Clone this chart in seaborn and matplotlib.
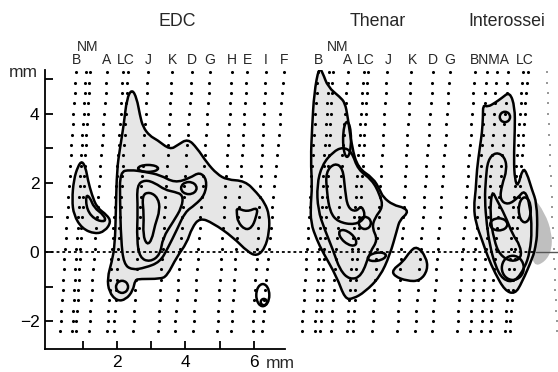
import matplotlib
matplotlib.use('Agg')
import matplotlib.pyplot as plt
from matplotlib.path import Path
from matplotlib.patches import PathPatch, Ellipse
import seaborn as sns
import pandas as pd
import numpy as np

sns.set_theme(style="white")
plt.rcParams['font.family'] = ['Liberation Sans', 'DejaVu Sans']

# ---- electrode grid (mm); columns slant a little, top row -> bottom row ----
dot_rows = [5.2, 4.9, 4.6, 4.3, 4.0, 3.7, 3.4, 3.1, 2.8, 2.5, 2.2, 1.9, 1.6,
            1.3, 1.0, 0.7, 0.4, 0.1, -0.2, -0.5, -0.8, -1.1, -1.4, -1.7,
            -2.0, -2.3]
edc_cols_top = [0.80, 1.09, 1.21, 1.71, 2.18, 2.32, 2.91, 3.61, 4.19, 4.72,
                5.36, 5.80, 6.35, 6.88]
edc_cols_bot = [0.34, 0.69, 0.80, 1.18, 1.71, 1.91, 2.47, 3.20, 3.69, 4.22,
                4.92, 5.33, 5.97, 6.23]
thenar_cols_top = [7.87, 8.19, 8.31, 8.74, 9.21, 9.33, 9.88, 10.58, 11.23, 11.72]
thenar_cols_bot = [7.40, 7.78, 7.93, 8.25, 8.72, 8.89, 9.45, 10.18, 10.70, 11.20]
inter_cols_top = [12.45, 12.80, 13.09, 13.42, 13.85, 13.99]
inter_cols_bot = [11.93, 12.31, 12.63, 12.89, 13.33, 13.47]
faint_col_top = [14.55]
faint_col_bot = [14.85]

# ---- column labels ----
edc_labels = ['B', 'A', 'LC', 'J', 'K', 'D', 'G', 'H', 'E', 'I', 'F']
edc_label_x = [0.83, 1.71, 2.26, 2.91, 3.61, 4.19, 4.72, 5.36, 5.80, 6.35, 6.88]
thenar_labels = ['B', 'A', 'LC', 'J', 'K', 'D', 'G']
thenar_label_x = [7.90, 8.74, 9.27, 9.91, 10.64, 11.23, 11.72]
inter_labels = ['BNMA', 'LC']
inter_label_x = [12.90, 13.90]
nm_label_x = [1.15, 8.45]

panel_titles = ['EDC', 'Thenar']
panel_title_x = [3.75, 9.62]

# ---- contour outlines (mm) ----
edc_outer = [(2.44, 4.72), (2.58, 4.45), (2.67, 3.97), (2.76, 3.62), (2.96, 3.36),
             (3.17, 3.25), (3.55, 2.96), (3.78, 3.10), (4.07, 3.28), (4.34, 3.01),
             (4.63, 2.58), (4.92, 2.26), (5.21, 2.09), (5.74, 2.06), (6.09, 1.71),
             (6.32, 1.42), (6.45, 1.07), (6.45, 0.58), (6.32, 0.10), (6.09, -0.12),
             (5.82, 0.00), (5.39, 0.43), (4.80, 0.84), (4.42, 0.99), (4.19, 0.70),
             (4.04, 0.26), (3.75, -0.14), (3.46, -0.70), (3.26, -0.78), (2.67, -0.78),
             (2.53, -0.81), (2.47, -1.12), (2.26, -1.38), (2.00, -1.42), (1.77, -1.16),
             (1.72, -0.75), (1.85, -0.29), (1.94, 0.20), (1.97, 1.22), (2.00, 2.38),
             (2.09, 3.01), (2.20, 3.68), (2.29, 4.45)]
edc_mid = [(2.09, 2.32), (2.38, 2.38), (2.82, 2.32), (3.26, 2.23), (3.69, 2.00),
           (4.13, 2.14), (4.42, 2.32), (4.63, 2.09), (4.57, 1.65), (4.28, 1.36),
           (3.99, 1.16), (3.75, 0.64), (3.49, 0.12), (3.26, -0.29), (2.82, -0.46),
           (2.44, -0.52), (2.20, -0.35), (2.12, 0.35), (2.09, 1.51)]
edc_inner = [(2.58, 1.94), (2.82, 2.09), (3.11, 2.00), (3.40, 1.80), (3.69, 1.74),
             (3.93, 1.65), (3.90, 1.30), (3.64, 0.87), (3.34, 0.41), (3.26, -0.09),
             (2.96, -0.29), (2.67, -0.17), (2.58, 0.35), (2.61, 1.22)]
edc_core = [(2.73, 1.65), (2.96, 1.74), (3.20, 1.57), (3.26, 1.22), (3.11, 0.78),
            (3.02, 0.35), (2.88, 0.20), (2.76, 0.49), (2.79, 1.07)]
edc_heart = [(5.50, 1.28), (5.80, 1.16), (6.12, 1.30), (6.06, 0.99), (5.94, 0.70),
             (5.74, 0.64), (5.53, 0.87), (5.50, 1.13)]
edc_left_outer = [(0.98, 2.64), (1.09, 2.43), (1.15, 2.09), (1.27, 1.65), (1.42, 1.28),
                  (1.71, 1.07), (1.83, 0.87), (1.65, 0.60), (1.36, 0.52), (0.98, 0.68),
                  (0.74, 1.07), (0.69, 1.51), (0.74, 2.09), (0.86, 2.48)]
edc_left_inner = [(1.09, 1.65), (1.12, 1.22), (1.36, 0.93), (1.68, 0.87),
                  (1.62, 1.07), (1.33, 1.28), (1.21, 1.59)]

thenar_outer = [(7.90, 5.36), (8.01, 5.19), (8.16, 4.78), (8.51, 4.49), (8.66, 4.32),
                (8.74, 3.91), (8.86, 3.04), (9.04, 2.43), (9.48, 2.14), (9.68, 1.80),
                (9.77, 1.59), (10.06, 1.36), (10.41, 1.28), (10.50, 1.13), (10.26, 0.93),
                (10.18, 0.64), (9.97, -0.09), (9.68, -0.72), (9.24, -1.16), (8.89, -1.36),
                (8.66, -1.36), (8.42, -0.72), (8.01, 0.00), (7.84, 0.35), (7.66, 0.84),
                (7.66, 1.42), (7.70, 1.88), (7.66, 2.67), (7.70, 3.62), (7.76, 4.61)]
thenar_side = [(10.76, 0.17), (11.03, -0.14), (11.08, -0.52), (10.85, -0.84),
               (10.47, -0.84), (10.10, -0.70), (10.04, -0.52), (10.35, -0.29),
               (10.56, 0.02)]
thenar_mid = [(7.99, 2.52), (8.31, 2.90), (8.60, 3.04), (8.86, 2.90), (9.04, 2.38),
              (9.45, 2.09), (9.68, 1.65), (9.77, 1.30), (9.53, 0.99), (9.45, 0.70),
              (9.62, 0.35), (9.39, 0.00), (9.15, -0.70), (8.80, -0.81), (8.51, -0.52),
              (8.31, 0.06), (8.07, 0.64), (7.87, 1.22), (7.84, 1.94)]
thenar_inner = [(8.10, 2.32), (8.36, 2.58), (8.60, 2.43), (8.66, 1.80), (8.74, 1.28),
                (8.98, 1.16), (9.15, 1.36), (9.27, 0.99), (8.95, 0.78), (8.45, 0.87),
                (8.22, 1.16), (8.13, 1.74)]

inter_outer = [(13.47, 4.64), (13.62, 4.20), (13.62, 3.54), (13.59, 2.67), (13.62, 2.09),
               (13.71, 1.88), (13.85, 2.43), (13.97, 2.29), (14.12, 1.80), (14.26, 1.42),
               (14.28, 0.55), (14.22, 0.14), (14.15, -0.14), (13.82, -0.90), (13.62, -1.22),
               (13.33, -1.12), (13.04, -0.61), (12.83, -0.14), (12.66, 0.35), (12.48, 0.84),
               (12.42, 1.30), (12.48, 1.80), (12.51, 2.38), (12.60, 3.04), (12.66, 3.45),
               (12.69, 3.91), (12.69, 4.26), (12.83, 4.20), (13.04, 4.32), (13.24, 4.46)]
inter_shadow = [(14.12, 1.65), (14.50, 1.13), (14.70, 0.55), (14.70, 0.06),
                (14.50, -0.29), (14.15, -0.43), (14.06, 0.35), (14.06, 1.22)]
inter_mid = [(12.77, 2.09), (12.83, 2.67), (13.07, 2.90), (13.33, 2.75), (13.39, 2.38),
             (13.24, 1.94), (13.18, 1.51), (13.42, 1.36), (13.71, 1.57), (13.91, 1.80),
             (14.06, 1.36), (14.12, 0.64), (14.06, 0.00), (13.91, -0.46), (13.62, -0.87),
             (13.27, -0.81), (13.04, -0.38), (12.89, 0.20), (12.80, 0.78), (12.74, 1.51)]
inter_inner = [(12.95, 1.80), (13.09, 1.51), (13.33, 1.07), (13.56, 0.49), (13.77, 0.20),
               (13.82, -0.17), (13.53, -0.29), (13.18, -0.09), (13.01, 0.35), (12.89, 1.07)]

# small closed contours: centre x, centre y, width, height, angle
small_loops = [(2.91, 2.42, 0.58, 0.20, 0), (4.10, 1.85, 0.45, 0.35, 0),
               (2.15, -1.01, 0.35, 0.35, 0), (6.26, -1.25, 0.38, 0.64, 0),
               (6.29, -1.45, 0.18, 0.18, 0),
               (8.72, 3.26, 0.23, 1.01, 0), (9.24, 0.84, 0.35, 0.35, 0),
               (8.74, 0.41, 0.60, 0.30, -40), (9.59, -0.14, 0.53, 0.23, 10),
               (13.56, -0.46, 0.64, 0.70, 0), (13.91, 1.22, 0.35, 0.72, 0),
               (13.33, 3.91, 0.30, 0.30, 0), (13.15, 0.80, 0.50, 0.35, 0)]

FILL = '#e4e4e4'
LW = 1.8


def blob_path(pts):
    """Closed smooth outline: vertices act as quadratic Bezier control points."""
    pts = np.asarray(pts)
    mids = (pts + np.roll(pts, -1, axis=0)) / 2
    verts = [mids[-1]]
    codes = [Path.MOVETO]
    for i in range(len(pts)):
        verts += [pts[i], mids[i]]
        codes += [Path.CURVE3, Path.CURVE3]
    verts.append(mids[-1])
    codes.append(Path.CLOSEPOLY)
    return Path(verts, codes)


def electrode_dots(tops, bots):
    rows = []
    for xt, xb in zip(tops, bots):
        for y in dot_rows:
            frac = (dot_rows[0] - y) / (dot_rows[0] - dot_rows[-1])
            rows.append({'x': xt + (xb - xt) * frac, 'y': y})
    return pd.DataFrame(rows)


fig = plt.figure(figsize=(5.58, 3.72), dpi=100)
ax = fig.add_axes([45 / 558, 1 - 349 / 372, 513 / 558, 279 / 372])
ax.set_xlim(-0.10, 14.88)
ax.set_ylim(-2.81, 5.27)

# filled regions
ax.add_patch(PathPatch(blob_path(inter_shadow), facecolor='#b4b4b4',
                       edgecolor='none', alpha=0.85, zorder=1))
for shape in [edc_outer, edc_left_outer, thenar_outer, thenar_side, inter_outer]:
    ax.add_patch(PathPatch(blob_path(shape), facecolor=FILL, edgecolor='none',
                           alpha=0.9, zorder=1))

# electrode dots
dots = pd.concat([electrode_dots(edc_cols_top, edc_cols_bot),
                  electrode_dots(thenar_cols_top, thenar_cols_bot),
                  electrode_dots(inter_cols_top, inter_cols_bot)])
sns.scatterplot(data=dots, x='x', y='y', s=5, color='black', linewidth=0,
                ax=ax, zorder=2)
faint = electrode_dots(faint_col_top, faint_col_bot)
sns.scatterplot(data=faint, x='x', y='y', s=3, marker='s', color='#999999',
                linewidth=0, ax=ax, zorder=2)

# zero line
ax.plot([-0.10, 14.25], [0, 0], color='black', lw=1.3, ls=(0, (1.6, 1.6)), zorder=2)
ax.plot([14.25, 14.88], [0, 0], color='#555555', lw=1.0, zorder=2)

# contour lines
for shape in [edc_outer, edc_mid, edc_inner, edc_core, edc_heart, edc_left_outer,
              edc_left_inner, thenar_outer, thenar_side, thenar_mid, thenar_inner,
              inter_outer, inter_mid, inter_inner]:
    ax.add_patch(PathPatch(blob_path(shape), facecolor='none', edgecolor='black',
                           lw=LW, zorder=3))
for cx, cy, w, h, ang in small_loops:
    ax.add_patch(Ellipse((cx, cy), w, h, angle=ang, facecolor='none',
                         edgecolor='black', lw=LW, zorder=3))

# axes styling
sns.despine(ax=ax, top=True, right=True)
for side in ['left', 'bottom']:
    ax.spines[side].set_color('black')
    ax.spines[side].set_linewidth(1.3)
ax.spines['bottom'].set_bounds(-0.10, 6.9)
ax.set_xticks([1, 2, 3, 4, 5, 6])
ax.set_xticklabels(['', '2', '', '4', '', '6'])
ax.set_yticks([-2, -1, 0, 1, 2, 3, 4, 5])
ax.set_yticklabels(['\u22122', '', '0', '', '2', '', '4', ''])
ax.tick_params(axis='both', direction='in', length=6, width=1.3,
               labelsize=12.5, colors='black', pad=4)
ax.tick_params(axis='x', bottom=True)
ax.tick_params(axis='y', left=True)
ax.set_xlabel('')
ax.set_ylabel('')
ax.text(6.34, -3.24, 'mm', fontsize=12.5, ha='left', va='center', clip_on=False)
ax.text(-0.72, 5.19, 'mm', fontsize=12.5, ha='center', va='center', clip_on=False)

# titles and electrode labels
for t, x in zip(panel_titles, panel_title_x):
    ax.text(x, 6.67, t, fontsize=12.8, ha='center', va='center', clip_on=False)
ax.text(12.25, 6.67, 'Interossei', fontsize=12.8, ha='left', va='center',
        clip_on=False)
for labels, xs in [(edc_labels, edc_label_x), (thenar_labels, thenar_label_x),
                   (inter_labels, inter_label_x)]:
    for lab, x in zip(labels, xs):
        ax.text(x, 5.57, lab, fontsize=10, ha='center', va='center', clip_on=False)
for x in nm_label_x:
    ax.text(x, 5.94, 'NM', fontsize=10, ha='center', va='center', clip_on=False)

plt.savefig('out.png', dpi=100, facecolor='white')
plt.close()
